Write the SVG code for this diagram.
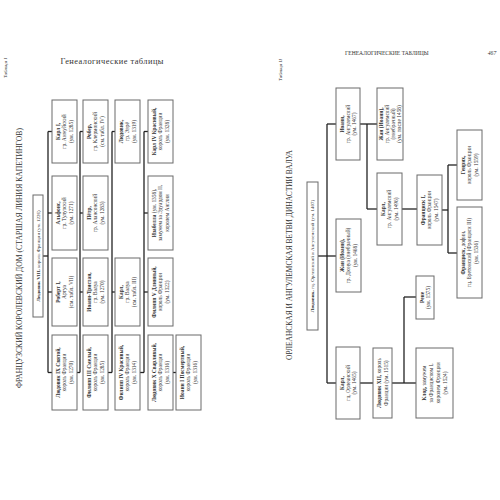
<svg xmlns="http://www.w3.org/2000/svg" width="500" height="500" viewBox="0 0 500 500">
<style>
text{font-family:"Liberation Serif","Times New Roman",serif;fill:#333}
.bx rect{fill:#fff;stroke:#6a6a6a;stroke-width:1}
.bx text{font-size:5.4px;text-anchor:middle}
.b{font-weight:bold}
.cn line{stroke:#222;stroke-width:1.3}
.ttl{font-size:7.4px;text-anchor:middle}
.tab{font-size:5px;font-style:italic;text-anchor:middle}
.rt text{font-size:5px;text-anchor:middle}
</style>
<rect width="500" height="500" fill="#fff"/>

<!-- PAGE I headers -->
<text class="tab" transform="translate(6.5 68) rotate(-90)">Таблица I</text>
<text x="112" y="64" font-size="8.4" text-anchor="middle" textLength="103">Генеалогические таблицы</text>
<text class="ttl" transform="translate(21.5 258) rotate(-90)" textLength="260" lengthAdjust="spacingAndGlyphs">ФРАНЦУЗСКИЙ КОРОЛЕВСКИЙ ДОМ (СТАРШАЯ ЛИНИЯ КАПЕТИНГОВ)</text>

<!-- PAGE I connectors -->
<g id="connectors-1" class="cn">
<line x1="43" y1="256" x2="48" y2="256"/>
<line x1="48" y1="131.5" x2="48" y2="372.5"/>
<line x1="48" y1="131.5" x2="52" y2="131.5"/>
<line x1="48" y1="213" x2="52" y2="213"/>
<line x1="48" y1="292" x2="52" y2="292"/>
<line x1="48" y1="372.5" x2="52" y2="372.5"/>
<line x1="77" y1="372.5" x2="80" y2="372.5"/>
<line x1="80" y1="131.5" x2="80" y2="372.5"/>
<line x1="80" y1="131.5" x2="83" y2="131.5"/>
<line x1="80" y1="213" x2="83" y2="213"/>
<line x1="80" y1="292" x2="83" y2="292"/>
<line x1="108" y1="372.5" x2="112" y2="372.5"/>
<line x1="112" y1="131.5" x2="112" y2="372.5"/>
<line x1="112" y1="131.5" x2="115" y2="131.5"/>
<line x1="112" y1="292" x2="115" y2="292"/>
<line x1="140" y1="372.5" x2="144" y2="372.5"/>
<line x1="144" y1="131.5" x2="144" y2="372.5"/>
<line x1="144" y1="131.5" x2="148" y2="131.5"/>
<line x1="144" y1="213" x2="148" y2="213"/>
<line x1="144" y1="292" x2="148" y2="292"/>
<line x1="173" y1="372.5" x2="176" y2="372.5"/>
</g>

<!-- PAGE I nodes -->
<g id="ludovik8" class="bx rt"><rect x="33" y="195" width="10" height="122"/>
<text transform="translate(38 256) rotate(-90)"><tspan y="1.8" class="b">Людовик VIII,</tspan> король Франции (ум. 1226)</text></g>

<g id="ludovik9" class="bx"><rect x="52" y="335" width="25" height="75"/>
<text transform="translate(64.5 372.5) rotate(-90)"><tspan x="0" y="-4.4" class="b">Людовик IX Святой,</tspan><tspan x="0" y="1.9">король Франции</tspan><tspan x="0" y="8.2">(ум. 1270)</tspan></text></g>
<g id="robert1" class="bx"><rect x="52" y="258" width="25" height="68"/>
<text transform="translate(64.5 292) rotate(-90)"><tspan x="0" y="-4.4" class="b">Роберт I,</tspan><tspan x="0" y="1.9">Артуа</tspan><tspan x="0" y="8.2">(см. табл. VII)</tspan></text></g>
<g id="alfons" class="bx"><rect x="52" y="176" width="25" height="74"/>
<text transform="translate(64.5 213) rotate(-90)"><tspan x="0" y="-4.4" class="b">Альфонс,</tspan><tspan x="0" y="1.9">гр. Тулузский</tspan><tspan x="0" y="8.2">(ум. 1271)</tspan></text></g>
<g id="karl1" class="bx"><rect x="52" y="100" width="25" height="63"/>
<text transform="translate(64.5 131.5) rotate(-90)"><tspan x="0" y="-4.4" class="b">Карл I,</tspan><tspan x="0" y="1.9">гр. Анжуйский</tspan><tspan x="0" y="8.2">(ум. 1285)</tspan></text></g>

<g id="filipp3" class="bx"><rect x="83" y="335" width="25" height="75"/>
<text transform="translate(95.5 372.5) rotate(-90)"><tspan x="0" y="-4.4" class="b">Филипп III Смелый,</tspan><tspan x="0" y="1.9">король Франции</tspan><tspan x="0" y="8.2">(ум. 1285)</tspan></text></g>
<g id="ioann-tristan" class="bx"><rect x="83" y="258" width="25" height="68"/>
<text transform="translate(95.5 292) rotate(-90)"><tspan x="0" y="-4.4" class="b">Иоанн-Тристан,</tspan><tspan x="0" y="1.9">гр. Валуа</tspan><tspan x="0" y="8.2">(ум. 1270)</tspan></text></g>
<g id="petr" class="bx"><rect x="83" y="176" width="25" height="74"/>
<text transform="translate(95.5 213) rotate(-90)"><tspan x="0" y="-4.4" class="b">Пётр,</tspan><tspan x="0" y="1.9">гр. Алансонский</tspan><tspan x="0" y="8.2">(ум. 1283)</tspan></text></g>
<g id="rober" class="bx"><rect x="83" y="100" width="25" height="63"/>
<text transform="translate(95.5 131.5) rotate(-90)"><tspan x="0" y="-4.4" class="b">Робер,</tspan><tspan x="0" y="1.9">гр. Клермонский</tspan><tspan x="0" y="8.2">(см. табл. IV)</tspan></text></g>

<g id="filipp4" class="bx"><rect x="115" y="335" width="25" height="75"/>
<text transform="translate(127.5 372.5) rotate(-90)"><tspan x="0" y="-4.4" class="b">Филипп IV Красивый,</tspan><tspan x="0" y="1.9">король Франции</tspan><tspan x="0" y="8.2">(ум. 1314)</tspan></text></g>
<g id="karl-valua" class="bx"><rect x="115" y="258" width="25" height="68"/>
<text transform="translate(127.5 292) rotate(-90)"><tspan x="0" y="-4.4" class="b">Карл,</tspan><tspan x="0" y="1.9">гр. Валуа</tspan><tspan x="0" y="8.2">(см. табл. III)</tspan></text></g>
<g id="ludovik-evre" class="bx"><rect x="115" y="100" width="25" height="63"/>
<text transform="translate(127.5 131.5) rotate(-90)"><tspan x="0" y="-4.4" class="b">Людовик,</tspan><tspan x="0" y="1.9">гр. Эврё</tspan><tspan x="0" y="8.2">(ум. 1319)</tspan></text></g>

<g id="ludovik10" class="bx"><rect x="148" y="335" width="25" height="75"/>
<text transform="translate(160.5 372.5) rotate(-90)"><tspan x="0" y="-4.4" class="b">Людовик X Сварливый,</tspan><tspan x="0" y="1.9">король Франции</tspan><tspan x="0" y="8.2">(ум. 1316)</tspan></text></g>
<g id="filipp5" class="bx"><rect x="148" y="258" width="25" height="68"/>
<text transform="translate(160.5 292) rotate(-90)"><tspan x="0" y="-4.4" class="b">Филипп V Длинный,</tspan><tspan x="0" y="1.9">король Франции</tspan><tspan x="0" y="8.2">(ум. 1322)</tspan></text></g>
<g id="izabella" class="bx"><rect x="148" y="176" width="25" height="74"/>
<text transform="translate(160.5 213) rotate(-90)"><tspan x="0" y="-4.4"><tspan class="b">Изабелла</tspan> (ум. 1358),</tspan><tspan x="0" y="1.9">замужем за Эдуардом II,</tspan><tspan x="0" y="8.2">королем Англии</tspan></text></g>
<g id="karl4" class="bx"><rect x="148" y="100" width="25" height="63"/>
<text transform="translate(160.5 131.5) rotate(-90)"><tspan x="0" y="-4.4" class="b">Карл IV Красивый,</tspan><tspan x="0" y="1.9">король Франции</tspan><tspan x="0" y="8.2">(ум. 1328)</tspan></text></g>

<g id="ioann1" class="bx"><rect x="176" y="335" width="25" height="75"/>
<text transform="translate(188.5 372.5) rotate(-90)"><tspan x="0" y="-4.4" class="b">Иоанн I Посмертный,</tspan><tspan x="0" y="1.9">король Франции</tspan><tspan x="0" y="8.2">(ум. 1316)</tspan></text></g>

<!-- PAGE II headers -->
<text x="387" y="55" font-size="5.6" text-anchor="middle" textLength="84" letter-spacing="0.3">ГЕНЕАЛОГИЧЕСКИЕ ТАБЛИЦЫ</text>
<text x="492" y="55" font-size="5.6" font-style="italic" text-anchor="middle">467</text>
<text class="tab" transform="translate(282 70) rotate(-90)">Таблица II</text>
<text class="ttl" transform="translate(291.5 255) rotate(-90)" textLength="210" lengthAdjust="spacingAndGlyphs">ОРЛЕАНСКАЯ И АНГУЛЕМСКАЯ ВЕТВИ ДИНАСТИИ ВАЛУА</text>

<!-- PAGE II connectors -->
<g id="connectors-2" class="cn">
<line x1="318" y1="256" x2="336" y2="256"/>
<line x1="327" y1="124" x2="327" y2="383"/>
<line x1="327" y1="124" x2="336" y2="124"/>
<line x1="327" y1="383" x2="336" y2="383"/>
<line x1="360" y1="124" x2="377" y2="124"/>
<line x1="367" y1="124" x2="367" y2="209"/>
<line x1="367" y1="209" x2="377" y2="209"/>
<line x1="402" y1="209" x2="417" y2="209"/>
<line x1="442" y1="210" x2="448" y2="210"/>
<line x1="448" y1="165" x2="448" y2="253"/>
<line x1="448" y1="165" x2="457" y2="165"/>
<line x1="448" y1="253" x2="457" y2="253"/>
<line x1="360" y1="383" x2="373" y2="383"/>
<line x1="392" y1="383" x2="416" y2="383"/>
<line x1="404" y1="297" x2="404" y2="383"/>
<line x1="404" y1="297" x2="416" y2="297"/>
</g>

<!-- PAGE II nodes -->
<g id="ludovik-orl" class="bx rt"><rect x="307" y="182" width="11" height="148"/>
<text transform="translate(312.5 256) rotate(-90)"><tspan y="1.8" class="b">Людовик,</tspan> гц. Орлеанский и Ангулемский (ум. 1407)</text></g>

<g id="ioann-ang" class="bx"><rect x="336" y="88" width="24" height="72"/>
<text transform="translate(348 124) rotate(-90)"><tspan x="0" y="-4.4" class="b">Иоанн,</tspan><tspan x="0" y="1.9">гр. Ангулемский</tspan><tspan x="0" y="8.2">(ум. 1467)</tspan></text></g>
<g id="zhan-dyunua" class="bx"><rect x="336" y="219" width="25" height="73"/>
<text transform="translate(348.5 255.5) rotate(-90)"><tspan x="0" y="-4.4" class="b">Жан (Иоанн),</tspan><tspan x="0" y="1.9">гр. Дюнуа (внебрачный)</tspan><tspan x="0" y="8.2">(ум. 1468)</tspan></text></g>
<g id="karl-orl" class="bx"><rect x="336" y="347" width="24" height="72"/>
<text transform="translate(348 383) rotate(-90)"><tspan x="0" y="-4.4" class="b">Карл,</tspan><tspan x="0" y="1.9">гц. Орлеанский</tspan><tspan x="0" y="8.2">(ум. 1465)</tspan></text></g>

<g id="zhan-ang" class="bx"><rect x="377" y="88" width="26" height="72"/>
<text transform="translate(390 124) rotate(-90)"><tspan x="0" y="-6.8" class="b">Жан (Иоанн),</tspan><tspan x="0" y="-1">гр. Ангулемский</tspan><tspan x="0" y="4.8">(внебрачный)</tspan><tspan x="0" y="10.6">(ум. после 1458)</tspan></text></g>
<g id="karl-ang" class="bx"><rect x="377" y="173" width="25" height="72"/>
<text transform="translate(389.5 209) rotate(-90)"><tspan x="0" y="-4.4" class="b">Карл,</tspan><tspan x="0" y="1.9">гр. Ангулемский</tspan><tspan x="0" y="8.2">(ум. 1496)</tspan></text></g>
<g id="ludovik12" class="bx"><rect x="373" y="348" width="19" height="70"/>
<text transform="translate(382.5 383) rotate(-90)"><tspan x="0" y="-1.25"><tspan class="b">Людовик XII,</tspan> король</tspan><tspan x="0" y="5.05">Франции (ум. 1515)</tspan></text></g>

<g id="francisk1" class="bx"><rect x="417" y="175" width="25" height="70"/>
<text transform="translate(429.5 210) rotate(-90)"><tspan x="0" y="-4.4" class="b">Франциск I,</tspan><tspan x="0" y="1.9">король Франции</tspan><tspan x="0" y="8.2">(ум. 1547)</tspan></text></g>
<g id="rene" class="bx"><rect x="416" y="276" width="18" height="43"/>
<text transform="translate(425 297.5) rotate(-90)"><tspan x="0" y="-1.25" class="b">Рене</tspan><tspan x="0" y="5.05">(ум. 1575)</tspan></text></g>
<g id="klod" class="bx"><rect x="416" y="348" width="37" height="70"/>
<text transform="translate(434.5 383) rotate(-90)"><tspan x="0" y="-8.6"><tspan class="b">Клод,</tspan> замужем</tspan><tspan x="0" y="-1.6">за Франциском I,</tspan><tspan x="0" y="5.4">королем Франции</tspan><tspan x="0" y="12.4">(ум. 1524)</tspan></text></g>

<g id="genrih" class="bx"><rect x="457" y="130" width="25" height="70"/>
<text transform="translate(469.5 165) rotate(-90)"><tspan x="0" y="-4.4" class="b">Генрих,</tspan><tspan x="0" y="1.9">король Франции</tspan><tspan x="0" y="8.2">(ум. 1559)</tspan></text></g>
<g id="francisk-dofin" class="bx"><rect x="457" y="207" width="25" height="91"/>
<text transform="translate(469.5 252.5) rotate(-90)"><tspan x="0" y="-4.4"><tspan class="b">Франциск,</tspan> дофин,</tspan><tspan x="0" y="1.9">гц. Бретонский (Франциск III)</tspan><tspan x="0" y="8.2">(ум. 1536)</tspan></text></g>
</svg>
